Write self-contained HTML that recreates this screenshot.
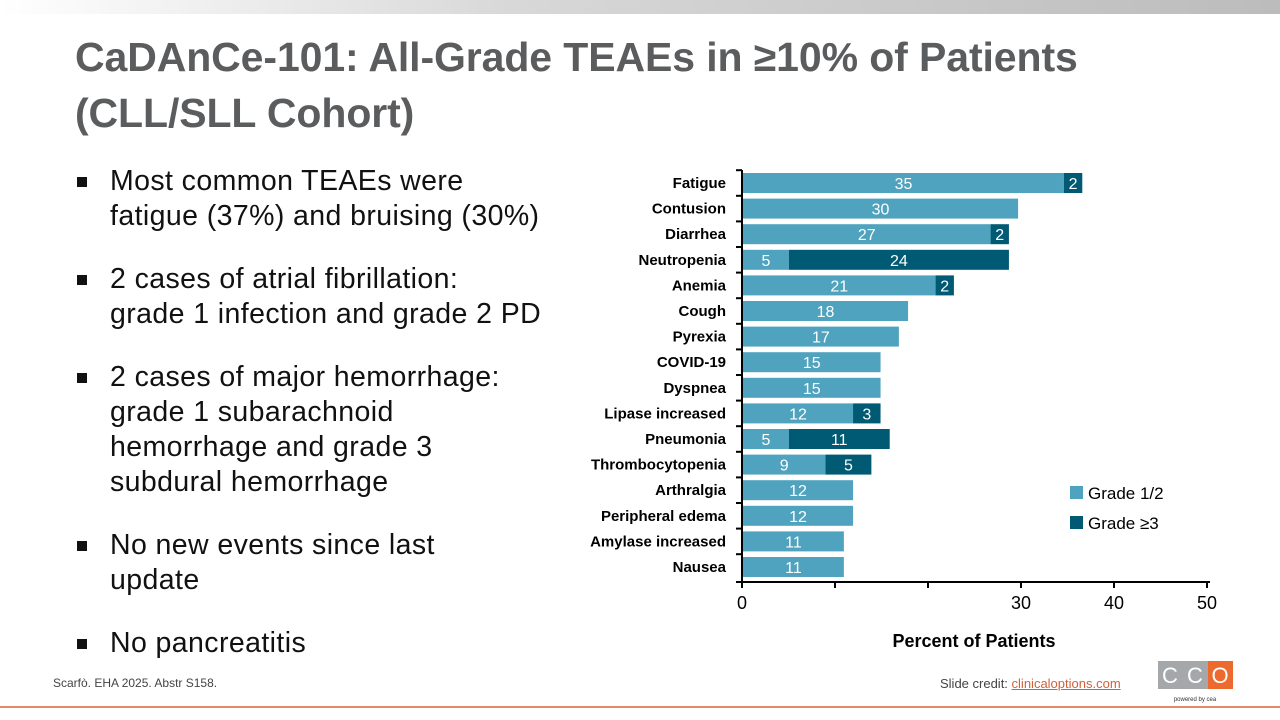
<!DOCTYPE html>
<html><head><meta charset="utf-8"><style>
body{margin:0;width:1280px;height:720px;overflow:hidden;background:#fff;font-family:"Liberation Sans",sans-serif;position:relative}
.top{position:absolute;left:0;top:0;width:1280px;height:14px;background:linear-gradient(90deg,#fff 0%,#d8d8d8 40%,#bcbcbc 100%)}
h1{position:absolute;left:75px;top:29px;margin:0;font-size:41px;line-height:56px;color:#5a5c5e;font-weight:bold;letter-spacing:-0.1px}
ul{position:absolute;left:75px;top:164px;margin:0;padding:0;list-style:none;width:520px}
li{position:relative;padding-left:35px;font-size:28.5px;line-height:35px;color:#111;margin-bottom:28px;letter-spacing:0.4px;white-space:nowrap}
li:before{content:"";position:absolute;left:2px;top:13px;width:10px;height:10px;background:#111}
.foot{position:absolute;left:53px;top:676px;font-size:12px;color:#444}
.credit{position:absolute;left:940px;top:676px;font-size:13px;color:#444}
.credit span{color:#d0623b;text-decoration:underline}
.line{position:absolute;left:0;top:706px;width:1280px;height:2px;background:#e08a68}
</style></head><body>
<div class="top"></div>
<h1>CaDAnCe-101: All-Grade TEAEs in ≥10% of Patients<br>(CLL/SLL Cohort)</h1>
<ul>
<li>Most common TEAEs were<br>fatigue (37%) and bruising (30%)</li>
<li>2 cases of atrial fibrillation:<br>grade 1 infection and grade 2 PD</li>
<li>2 cases of major hemorrhage:<br>grade 1 subarachnoid<br>hemorrhage and grade 3<br>subdural hemorrhage</li>
<li>No new events since last<br>update</li>
<li>No pancreatitis</li>
</ul>
<svg width="1280" height="720" style="position:absolute;left:0;top:0" font-family="Liberation Sans,sans-serif">
<g id="bars"></g>
<line x1="742" y1="170" x2="742" y2="582" stroke="#000" stroke-width="2"/>
<line x1="736" y1="582" x2="1210" y2="582" stroke="#000" stroke-width="2"/>
<g stroke="#000" stroke-width="2">
<line x1="742" y1="582" x2="742" y2="588"/><line x1="835" y1="582" x2="835" y2="588"/><line x1="928" y1="582" x2="928" y2="588"/><line x1="1021" y1="582" x2="1021" y2="588"/><line x1="1114" y1="582" x2="1114" y2="588"/><line x1="1207" y1="582" x2="1207" y2="588"/>
</g>
<g font-size="18" fill="#000" text-anchor="middle">
<text x="742" y="609">0</text><text x="1021" y="609">30</text><text x="1114" y="609">40</text><text x="1207" y="609">50</text>
</g>
<text x="974" y="647" font-size="18" font-weight="bold" text-anchor="middle">Percent of Patients</text>
<rect x="1070" y="486" width="13" height="13" fill="#4fa3be"/><text x="1088" y="499" font-size="17">Grade 1/2</text>
<rect x="1070" y="516" width="13" height="13" fill="#015a73"/><text x="1088" y="529" font-size="17">Grade ≥3</text>
<g id="lab" font-size="15" font-weight="bold" text-anchor="end"></g>
<rect x="1158" y="661" width="25" height="28" fill="#a5a8aa"/><rect x="1183" y="661" width="25" height="28" fill="#a5a8aa"/><rect x="1208" y="661" width="25" height="28" fill="#ec6a2e"/>
<g font-size="22" fill="#fff" text-anchor="middle"><text x="1170" y="683">C</text><text x="1195" y="683">C</text><text x="1220" y="683">O</text></g>
<text x="1195" y="701" font-size="6" text-anchor="middle" fill="#333">powered by cea</text>
</svg>
<div class="foot">Scarfò. EHA 2025. Abstr S158.</div>
<div class="credit">Slide credit: <span>clinicaloptions.com</span></div>
<div class="line"></div>
<script>
var d=[["Fatigue",35,2],["Contusion",30,0],["Diarrhea",27,2],["Neutropenia",5,24],["Anemia",21,2],["Cough",18,0],["Pyrexia",17,0],["COVID-19",15,0],["Dyspnea",15,0],["Lipase increased",12,3],["Pneumonia",5,11],["Thrombocytopenia",9,5],["Arthralgia",12,0],["Peripheral edema",12,0],["Amylase increased",11,0],["Nausea",11,0]];
var s=9.17,x0=743,b="",l="";
d.forEach(function(r,i){var yc=183+i*25.6,y=yc-10,w1=r[1]*s,w2=r[2]*s;
b+='<rect x="'+x0+'" y="'+y+'" width="'+w1+'" height="20" fill="#4fa3be"/>';
b+='<text x="'+(x0+w1/2)+'" y="'+(yc+6)+'" font-size="16" fill="#fff" text-anchor="middle">'+r[1]+'</text>';
if(r[2]){b+='<rect x="'+(x0+w1)+'" y="'+y+'" width="'+w2+'" height="20" fill="#015a73"/>';
b+='<text x="'+(x0+w1+w2/2)+'" y="'+(yc+6)+'" font-size="16" fill="#fff" text-anchor="middle">'+r[2]+'</text>';}
b+='<line x1="736" y1="'+(yc-12.8)+'" x2="742" y2="'+(yc-12.8)+'" stroke="#000" stroke-width="2"/>';
l+='<text x="726" y="'+(yc+5)+'">'+r[0]+'</text>';});
document.getElementById("bars").innerHTML=b;document.getElementById("lab").innerHTML=l;
</script>
</body></html>
